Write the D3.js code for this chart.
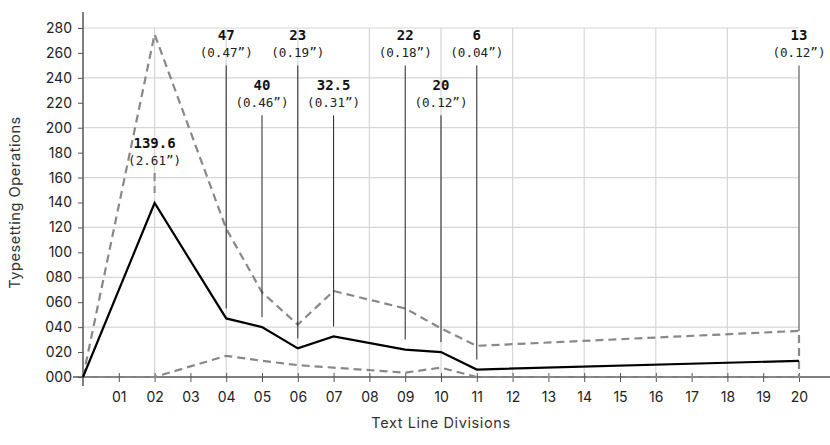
<!DOCTYPE html>
<meta charset="utf-8">
<style>
body { margin: 0; background: #fff; }
.tick text { font-family: Inter, "Noto Sans", sans-serif; font-size: 14px; fill: #222; }
.axis path, .axis line { stroke: #555; }
.grid line { stroke: #d6d6d6; stroke-width: 1.2; }
.ann-val { font-family: "DejaVu Sans Mono", monospace; font-weight: bold; font-size: 14px; fill: #111; }
.ann-time { font-family: "DejaVu Sans Mono", monospace; font-size: 12.6px; fill: #222; }
.title { font-family: Inter, "Noto Sans", sans-serif; font-size: 14.5px; letter-spacing: 0.6px; fill: #333; }
</style>
<body>
<script src="https://d3js.org/d3.v7.min.js"></script>
<script>

var width = 830,
    height = 445;

// text line divisions that were measured
var divisions = [0, 2, 4, 5, 6, 7, 9, 10, 11, 20];
// average typesetting operations (solid line)
var meanOps = [0, 139.6, 47, 40, 23, 32.5, 22, 20, 6, 13];
// upper and lower range (dashed)
var maxOps = [0, 275, 119, 68, 42, 69, 55, 39, 25, 37];
var minOps = [0, 0, 17, 13, 9.5, 7.5, 3.5, 7.5, 0, 0];
// time labels for each annotated point (all but the first)
var timeLabels = ["2.61", "0.47", "0.46", "0.19", "0.31", "0.18", "0.12", "0.04", "0.12"];

var xTicks = d3.range(1, 21);
var yTicks = d3.range(0, 281, 20);

var x = d3.scaleLinear().domain([0, 20]).range([83, 799]);
var y = d3.scaleLinear().domain([0, 280]).range([377, 28]);

var svg = d3.select("body").append("svg")
    .attr("width", width)
    .attr("height", height);

// grid
var grid = svg.append("g").attr("class", "grid");
grid.selectAll("line.h")
    .data(d3.range(40, 281, 40))
    .enter().append("line")
    .attr("class", "h")
    .attr("x1", x(0)).attr("x2", x(20))
    .attr("y1", function(d) { return y(d); })
    .attr("y2", function(d) { return y(d); });
grid.selectAll("line.v")
    .data(d3.range(2, 20, 2))
    .enter().append("line")
    .attr("class", "v")
    .attr("y1", y(0)).attr("y2", y(280))
    .attr("x1", function(d) { return x(d); })
    .attr("x2", function(d) { return x(d); });

// axes
var xAxis = svg.append("g")
    .attr("class", "axis")
    .attr("transform", "translate(0," + y(0) + ")")
    .call(d3.axisBottom(x).tickValues(xTicks).tickSize(5).tickPadding(10)
      .tickFormat(d3.format("02d")));
xAxis.select(".domain").remove();
xAxis.selectAll(".tick line").attr("y1", -4);
xAxis.append("line")
    .attr("x1", 73).attr("x2", width)
    .attr("stroke", "#555").attr("stroke-width", 1.5);

var yAxis = svg.append("g")
    .attr("class", "axis")
    .attr("transform", "translate(" + x(0) + ",0)")
    .call(d3.axisLeft(y).tickValues(yTicks).tickSize(5).tickPadding(6)
      .tickFormat(d3.format("03d")));
yAxis.select(".domain").remove();
yAxis.append("line")
    .attr("y1", 12).attr("y2", 386)
    .attr("stroke", "#333").attr("stroke-width", 1.5);

// range band (dashed), drawn as one closed outline
var pts = divisions.map(function(d, i) { return [d, maxOps[i]]; })
    .concat(divisions.map(function(d, i) { return [d, minOps[i]]; }).reverse());
svg.append("path")
    .datum(pts)
    .attr("fill", "none")
    .attr("stroke", "#888")
    .attr("stroke-width", 2.2)
    .attr("stroke-dasharray", "8,5")
    .attr("d", d3.line().x(function(d) { return x(d[0]); }).y(function(d) { return y(d[1]); }));

// annotations
var ann = divisions.slice(1).map(function(d, i) {
  return { div: d, v: meanOps[i + 1], t: timeLabels[i], top: maxOps[i + 1] };
});
var peak = d3.max(meanOps);
ann.forEach(function(a, i) {
  if (a.v === peak) { a.row = -1; return; }
  var prev = ann[i - 1];
  a.row = (prev && prev.row === 0 && a.div - prev.div <= 1) ? 1 : 0;
});

var annG = svg.append("g");
ann.forEach(function(a, i) {
  var base = a.row === -1 ? y(a.v) - 55 : (a.row === 0 ? y(270) : y(230));
  var last = i === ann.length - 1;
  var end = last ? y(a.top) : y(a.v) - 10;
  annG.append("line")
      .attr("x1", x(a.div)).attr("x2", x(a.div))
      .attr("y1", base + 25).attr("y2", end)
      .attr("stroke", a.row === -1 || last ? "#888" : "#222")
      .attr("stroke-width", a.row === -1 ? 2 : (last ? 1.6 : 1))
      .attr("stroke-dasharray", a.row === -1 ? "8,5" : null);
  annG.append("text")
      .attr("class", "ann-val")
      .attr("x", x(a.div)).attr("y", base)
      .attr("text-anchor", "middle")
      .text(a.v);
  annG.append("text")
      .attr("class", "ann-time")
      .attr("x", x(a.div)).attr("y", base + 17)
      .attr("text-anchor", "middle")
      .text("(" + a.t + "\u201D)");
});

// mean line
svg.append("path")
    .datum(divisions.map(function(d, i) { return [d, meanOps[i]]; }))
    .attr("fill", "none")
    .attr("stroke", "#000")
    .attr("stroke-width", 2.2)
    .attr("d", d3.line().x(function(d) { return x(d[0]); }).y(function(d) { return y(d[1]); }));

// titles
svg.append("text")
    .attr("class", "title")
    .attr("x", (x(0) + x(20)) / 2).attr("y", 428)
    .attr("text-anchor", "middle")
    .text("Text Line Divisions");
svg.append("text")
    .attr("class", "title")
    .attr("transform", "translate(20," + (y(0) + y(280)) / 2 + ") rotate(-90)")
    .attr("text-anchor", "middle")
    .text("Typesetting Operations");

</script>
